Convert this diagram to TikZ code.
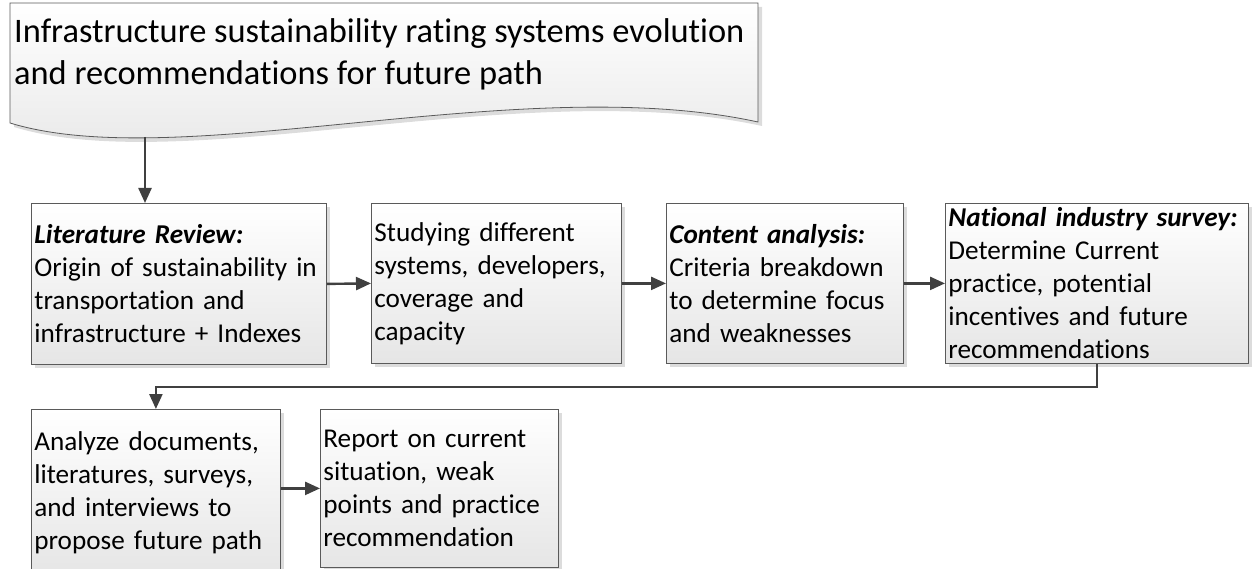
\documentclass[tikz,border=0pt]{standalone}
\usepackage{fontspec}
\setmainfont{Carlito}[Ligatures=NoCommon]
\usetikzlibrary{arrows.meta,shadows}
\definecolor{bordc}{HTML}{5A5A5A}
\definecolor{arrc}{HTML}{404040}
\definecolor{shc}{HTML}{DCDCDC}
\begin{document}
\begin{tikzpicture}[x=1pt,y=-1pt,
  shad/.style={drop shadow={shadow xshift=4pt, shadow yshift=-4pt, fill=shc, opacity=1}},
  box/.style={draw=bordc, line width=0.8pt, top color=white, bottom color=black!10, shad,
    anchor=north west, align=left, inner xsep=3pt, inner ysep=0pt,
    font=\fontsize{27.2}{33}\selectfont},
  arr/.style={draw=arrc, line width=2.4pt, -{Triangle[length=15pt,width=13pt]}}]
\useasboundingbox (0,0) rectangle (1252,569);
% title document shape
\path[draw=bordc, line width=0.8pt, top color=white, bottom color=black!10, shad]
  (10,3) -- (758,3) -- (758,122) .. controls (520,70) and (180,175) .. (10,123) -- cycle;
\node[anchor=north west, align=left, inner sep=0pt, font=\fontsize{34.4}{42}\selectfont] (title) at (14,18)
  {Infrastructure sustainability rating systems evolution\\and recommendations for future path};
\coordinate (tb) at (145,137);
\node[box, text width=289pt, minimum height=161pt] (b1) at (31,203)
  {\textbf{\textit{Literature Review:}}\\Origin of sustainability in\\transportation and\\infrastructure + Indexes};
\node[box, text width=244pt, minimum height=160pt] (b2) at (371,203)
  {Studying different\\systems, developers,\\coverage and\\capacity};
\node[box, text width=231pt, minimum height=160pt] (b3) at (666,203)
  {\textbf{\textit{Content analysis:}}\\Criteria breakdown\\to determine focus\\and weaknesses};
\node[box, text width=297pt, minimum height=160pt] (b4) at (945,203)
  {\textbf{\textit{National industry survey:}}\\Determine Current\\practice, potential\\incentives and future\\recommendations};
\node[box, text width=243pt, minimum height=166pt] (b5) at (31,409)
  {Analyze documents,\\literatures, surveys,\\and interviews to\\propose future path};
\node[box, text width=232pt, minimum height=158pt] (b6) at (320,409)
  {Report on current\\situation, weak\\points and practice\\recommendation};
\coordinate (mid) at (0,387);
\draw[arr] (tb) -- (tb |- b1.north);
\draw[arr] (b1.east) -- (b2.west);
\draw[arr] (b2.east) -- (b3.west);
\draw[arr] (b3.east) -- (b4.west);
\draw[arr] (b4.south) -- (b4.south |- mid) -| (b5.north);
\draw[arr] (b5.east |- b6.west) -- (b6.west);
\end{tikzpicture}
\end{document}
